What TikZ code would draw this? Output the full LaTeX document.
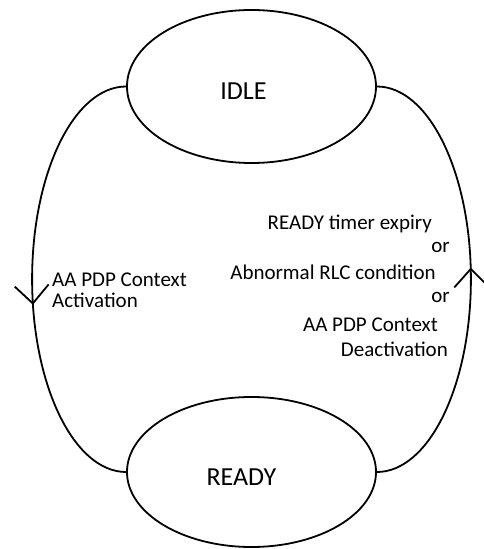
\documentclass[tikz,border=0pt]{standalone}
\usepackage{fontspec}
\setmainfont{Carlito}
\usepackage{tikz}
\usetikzlibrary{shapes.geometric,arrows.meta,decorations.markings}

\tikzset{
  state/.style={draw, ellipse, line width=1.8pt, inner sep=0pt, font=\fontsize{26}{30}\selectfont},
  cond/.style={inner sep=0pt, font=\fontsize{21}{25}\selectfont},
  barb/.style={postaction={decorate}, decoration={markings,
      mark=at position #1 with {\arrow{Straight Barb[length=18pt,width=34pt]}}}}
}

\begin{document}
\begin{tikzpicture}[x=1pt,y=1pt]
\useasboundingbox (0,0) rectangle (484,549);
% the two states, text sits a bit left and low in them
\node [state, minimum width=249pt, minimum height=153pt,
  label={[font=\fontsize{26}{30}\selectfont, xshift=-8pt, yshift=-5pt]center:IDLE}] (idle) at (251.5,462.5) {};
\node [state, minimum width=249pt, minimum height=150pt,
  label={[font=\fontsize{26}{30}\selectfont, xshift=-10pt, yshift=-5pt]center:READY}] (ready) at (251.5,77) {};
% transitions
\draw [line width=1.8pt, barb=0.555] (idle.west) arc [start angle=90, end angle=270, x radius=94pt, y radius=192.75pt];
\draw [line width=1.8pt, barb=0.525] (ready.east) arc [start angle=-90, end angle=90, x radius=94pt, y radius=192.75pt];
% labels
\node [cond, anchor=base west] (act1) at (52,262) {AA PDP Context};
\node [cond, anchor=base west] (act2) at (52,241) {Activation};
\node [cond, anchor=base east] (r1) at (432,319) {READY timer expiry};
\node [cond, anchor=base east] (r2) at (450,296) {or};
\node [cond, anchor=base east] (r3) at (436,269) {Abnormal RLC condition};
\node [cond, anchor=base east] (r4) at (450,246) {or};
\node [cond, anchor=base east] (r5) at (438,217) {AA PDP Context};
\node [cond, anchor=base east] (r6) at (448,192) {Deactivation};
\end{tikzpicture}
\end{document}
